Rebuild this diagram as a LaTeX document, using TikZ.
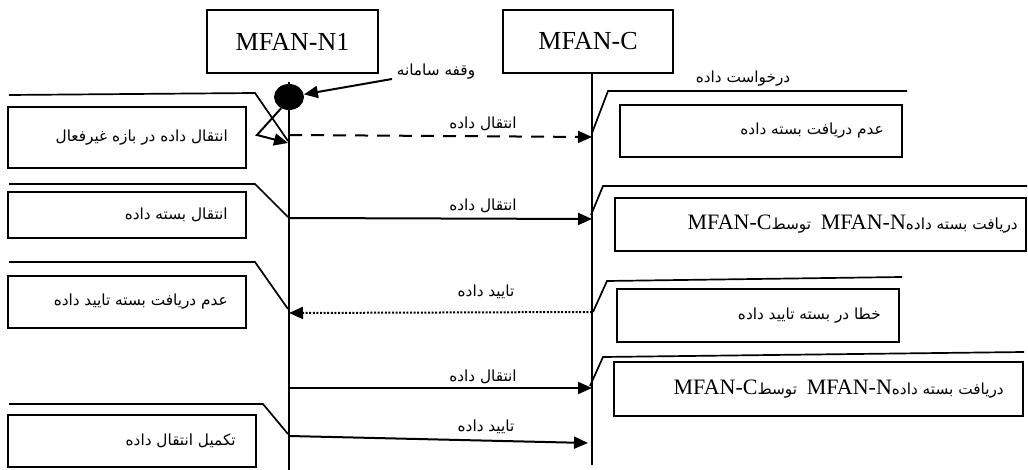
\documentclass[tikz,border=0pt]{standalone}
\usepackage{fontspec}
\setmainfont{Liberation Serif}
\newfontfamily\farsifont[Script=Arabic]{DejaVu Sans}
\TeXXeTstate=1
\usetikzlibrary{arrows.meta,shapes.geometric}
% Persian text, set right to left
\newcommand{\fatxt}[1]{{\farsifont\fontsize{15.3pt}{17pt}\selectfont\beginR #1\endR}}
% Latin name inside Persian text
\newcommand{\mfan}[1]{\beginL{\rmfamily\fontsize{22pt}{24pt}\selectfont #1}\endL{}}

\begin{document}
\begin{tikzpicture}[x=1pt,y=-1pt,
  head/.style={draw, line width=1.7pt, inner sep=0pt, font=\fontsize{26pt}{28pt}\selectfont},
  note/.style={draw, line width=1.9pt, inner sep=0pt},
  notetext/.style={anchor=east, inner sep=0pt},
  lifeline/.style={line width=1.6pt},
  leader/.style={line width=1.7pt},
  msg/.style={line width=2pt, -{Triangle[length=14pt,width=12pt]}},
  msglabel/.style={inner sep=0pt},
]
\useasboundingbox (0,0) rectangle (1028,470);

% participants
\node[head, minimum width=171pt, minimum height=63pt] (n1) at (292.5,41.5) {MFAN-N1};
\node[head, minimum width=170pt, minimum height=63pt] (c) at (588,41.5) {MFAN-C};

% lifelines
\coordinate (n1top) at (289,82);
\coordinate (n1bot) at (289,470);
\coordinate (ctop) at (592,73);
\coordinate (cbot) at (592,465);
\draw[lifeline] (n1top) -- (n1bot);
\draw[lifeline] (ctop) -- (cbot);

% system halt
\node[ellipse, fill, inner sep=0pt, minimum width=30pt, minimum height=26pt] (dot) at (289,97) {};
\node[msglabel] (halt) at (436,72) {\fatxt{وقفه سامانه}};
\coordinate (haltfrom) at (392,79);
\draw[msg] (haltfrom) -- (dot);
\coordinate (k1) at (257,135);
\coordinate (k2) at (288,143);
\draw[msg] (dot.-125) -- (k1) -- (k2);

% request label
\node[msglabel] (req) at (743,79) {\fatxt{درخواست داده}};

% notes on the N1 side
\node[note, minimum width=238pt, minimum height=61pt] (l1) at (127,137.5) {};
\node[notetext] (l1t) at ([xshift=-19pt]l1.east) {\fatxt{انتقال داده در بازه غیرفعال}};
\node[note, minimum width=238pt, minimum height=46pt] (l2) at (127,215) {};
\node[notetext] (l2t) at ([xshift=-19pt]l2.east) {\fatxt{انتقال بسته داده}};
\node[note, minimum width=238pt, minimum height=52pt] (l3) at (127,302) {};
\node[notetext] (l3t) at ([xshift=-19pt]l3.east) {\fatxt{عدم دریافت بسته تایید داده}};
\node[note, minimum width=248pt, minimum height=52pt] (l4) at (132,441) {};
\node[notetext] (l4t) at ([xshift=-21pt]l4.east) {\fatxt{تکمیل انتقال داده}};

% notes on the C side
\node[note, minimum width=282pt, minimum height=52pt] (r1) at (761,131) {};
\node[notetext] (r1t) at ([xshift=-19pt]r1.east) {\fatxt{عدم دریافت بسته داده}};
\node[note, minimum width=411pt, minimum height=53pt] (r2) at (820.5,224.5) {};
\node[notetext] (r2t) at ([xshift=-9pt]r2.east) {\fatxt{دریافت بسته داده\mfan{MFAN-N}\ \ توسط\mfan{MFAN-C}}};
\node[note, minimum width=282pt, minimum height=53pt] (r3) at (758,315.5) {};
\node[notetext] (r3t) at ([xshift=-19pt]r3.east) {\fatxt{خطا در بسته تایید داده}};
\node[note, minimum width=409pt, minimum height=54pt] (r4) at (818.5,389) {};
\node[notetext] (r4t) at ([xshift=-20pt]r4.east) {\fatxt{دریافت بسته داده\mfan{MFAN-N}\ \ توسط\mfan{MFAN-C}}};

% leader lines from the notes to the lifelines
\coordinate (la1) at (9,95);   \coordinate (lb1) at (255,93);  \coordinate (lc1) at (288,141);
\coordinate (la2) at (9,184);  \coordinate (lb2) at (255,184); \coordinate (lc2) at (288,217);
\coordinate (la3) at (9,262);  \coordinate (lb3) at (255,262); \coordinate (lc3) at (288,309);
\coordinate (la4) at (9,404);  \coordinate (lb4) at (263,404); \coordinate (lc4) at (288,434);
\draw[leader] (la1) -- (lb1) -- (lc1);
\draw[leader] (la2) -- (lb2) -- (lc2);
\draw[leader] (la3) -- (lb3) -- (lc3);
\draw[leader] (la4) -- (lb4) -- (lc4);

\coordinate (ra1) at (592,133); \coordinate (rb1) at (608,91);  \coordinate (rc1) at (907,91);
\coordinate (ra2) at (591,215); \coordinate (rb2) at (603,186); \coordinate (rc2) at (1027,186);
\coordinate (ra3) at (593,312); \coordinate (rb3) at (607,281); \coordinate (rc3) at (902,277);
\coordinate (ra4) at (590,386); \coordinate (rb4) at (603,357); \coordinate (rc4) at (1024,352);
\draw[leader] (ra1) -- (rb1) -- (rc1);
\draw[leader] (ra2) -- (rb2) -- (rc2);
\draw[leader] (ra3) -- (rb3) -- (rc3);
\draw[leader] (ra4) -- (rb4) -- (rc4);

% messages
\coordinate (m1s) at (289,135); \coordinate (m1e) at (592,137);
\coordinate (m2s) at (289,218); \coordinate (m2e) at (592,219);
\coordinate (m3s) at (592,312); \coordinate (m3e) at (289,313);
\coordinate (m4s) at (289,388); \coordinate (m4e) at (592,388);
\coordinate (m5s) at (289,436); \coordinate (m5e) at (588,443);
\draw[msg, dash pattern=on 13pt off 9pt] (m1s) -- (m1e);
\draw[msg] (m2s) -- (m2e);
\draw[msg, dash pattern=on 2pt off 1.6pt] (m3s) -- (m3e);
\draw[msg] (m4s) -- (m4e);
\draw[msg] (m5s) -- (m5e);

\node[msglabel] (m1l) at (483,124) {\fatxt{انتقال داده}};
\node[msglabel] (m2l) at (483,206) {\fatxt{انتقال داده}};
\node[msglabel] (m3l) at (486,292) {\fatxt{تایید داده}};
\node[msglabel] (m4l) at (483,377) {\fatxt{انتقال داده}};
\node[msglabel] (m5l) at (486,427) {\fatxt{تایید داده}};
\end{tikzpicture}
\end{document}
